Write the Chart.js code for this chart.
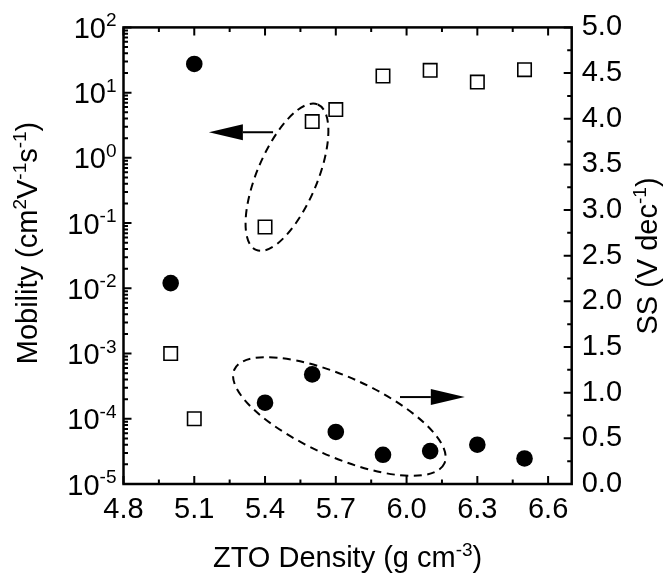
<!DOCTYPE html>
<html><head><meta charset="utf-8">
<script src="https://cdn.jsdelivr.net/npm/chart.js@4/dist/chart.umd.min.js"></script>
<style>html,body{margin:0;padding:0;background:#fff}canvas{display:block}</style>
</head><body>
<canvas id="c" width="665" height="575" style="width:665px;height:575px"></canvas>
<script>
// ---- data ----
const density  = [5.0, 5.1, 5.4, 5.6, 5.7, 5.9, 6.1, 6.3, 6.5];
const mobility = [1e-3, 1e-4, 0.087, 3.6, 5.5, 18, 22, 14.5, 22.5];
const ssValues = [2.2, 4.6, 0.89, 1.2, 0.57, 0.32, 0.36, 0.43, 0.28];

const xTicks = [4.8, 5.1, 5.4, 5.7, 6.0, 6.3, 6.6];
const xTickLabels = ['4.8', '5.1', '5.4', '5.7', '6.0', '6.3', '6.6'];
const mobTicks = [1e-5, 1e-4, 1e-3, 1e-2, 1e-1, 1e0, 1e1, 1e2];
const mobTickExponents = ['-5', '-4', '-3', '-2', '-1', '0', '1', '2'];
const ssTicks = [0, 0.5, 1.0, 1.5, 2.0, 2.5, 3.0, 3.5, 4.0, 4.5, 5.0];
const ssTickLabels = ['0.0', '0.5', '1.0', '1.5', '2.0', '2.5', '3.0', '3.5', '4.0', '4.5', '5.0'];

const xTitleParts  = [{t: 'ZTO Density (g cm'}, {t: '-3', sup: true}, {t: ')'}];
const yTitleParts  = [{t: 'Mobility (cm'}, {t: '2', sup: true}, {t: 'V'}, {t: '-1', sup: true}, {t: 's'}, {t: '-1', sup: true}, {t: ')'}];
const y2TitleParts = [{t: 'SS (V dec'}, {t: '-1', sup: true}, {t: ')'}];

// annotations (data coordinates)
const annotationEllipses = [
  {x: 5.493, y: 0.505, yAxis: 'y',  rx: 79,  ry: 30, angle: -67},
  {x: 5.715, y: 0.739, yAxis: 'y2', rx: 115, ry: 40, angle: 24}
];
const annotationArrows = [
  {from: 5.434, to: 5.162, y: 2.47,  yAxis: 'y'},
  {from: 5.972, to: 6.247, y: 0.952, yAxis: 'y2'}
];

// ---- rendering ----
const FONT = "'Liberation Sans', Arial, Helvetica, sans-serif";
const MAIN = 29, TICK = 29, SUP = 19, RISE = 11.5;

function richWidth(ctx, parts) {
  let w = 0;
  parts.forEach(p => { ctx.font = (p.sup ? SUP : MAIN) + 'px ' + FONT; w += ctx.measureText(p.t).width; });
  return w;
}
function drawRich(ctx, parts, x0) {
  let x = x0;
  ctx.textBaseline = 'alphabetic';
  ctx.textAlign = 'left';
  parts.forEach(p => {
    ctx.font = (p.sup ? SUP : MAIN) + 'px ' + FONT;
    ctx.fillText(p.t, x, p.sup ? -RISE : 0);
    x += ctx.measureText(p.t).width;
  });
}

function fixTicks(values) {
  return scale => { scale.ticks = values.map(v => ({value: v})); };
}

const decor = {
  id: 'decor',
  beforeDatasetsDraw(chart) {
    const ctx = chart.ctx, xs = chart.scales.x;
    ctx.save();
    ctx.strokeStyle = '#000';
    ctx.fillStyle = '#000';
    ctx.lineWidth = 2;
    ctx.setLineDash([8, 5.5]);
    annotationEllipses.forEach(e => {
      const cx = xs.getPixelForValue(e.x), cy = chart.scales[e.yAxis].getPixelForValue(e.y);
      ctx.beginPath();
      ctx.ellipse(cx, cy, e.rx, e.ry, e.angle * Math.PI / 180, 0, Math.PI * 2);
      ctx.stroke();
    });
    ctx.setLineDash([]);
    annotationArrows.forEach(a => {
      const x1 = xs.getPixelForValue(a.from), x2 = xs.getPixelForValue(a.to);
      const y = chart.scales[a.yAxis].getPixelForValue(a.y);
      const dir = Math.sign(x2 - x1), head = 34, hw = 8;
      ctx.beginPath();
      ctx.moveTo(x1, y); ctx.lineTo(x2 - dir * head, y);
      ctx.stroke();
      ctx.beginPath();
      ctx.moveTo(x2, y); ctx.lineTo(x2 - dir * head, y - hw); ctx.lineTo(x2 - dir * head, y + hw);
      ctx.closePath(); ctx.fill();
    });
    ctx.restore();
  },
  afterDraw(chart) {
    const ctx = chart.ctx, a = chart.chartArea;
    const xs = chart.scales.x, ys = chart.scales.y, y2 = chart.scales.y2;
    ctx.save();
    ctx.strokeStyle = '#000';
    ctx.fillStyle = '#000';
    // ticks
    ctx.lineWidth = 2;
    const MAJ = 8, MIN = 4.5;
    ctx.beginPath();
    const xMinor = [];
    for (let i = 0; i < xTicks.length - 1; i++) xMinor.push((xTicks[i] + xTicks[i + 1]) / 2);
    xs.ticks.forEach(t => {
      const px = xs.getPixelForValue(t.value);
      ctx.moveTo(px, a.bottom); ctx.lineTo(px, a.bottom - MAJ);
      ctx.moveTo(px, a.top); ctx.lineTo(px, a.top + MAJ);
    });
    xMinor.forEach(v => {
      const px = xs.getPixelForValue(v);
      ctx.moveTo(px, a.bottom); ctx.lineTo(px, a.bottom - MIN);
      ctx.moveTo(px, a.top); ctx.lineTo(px, a.top + MIN);
    });
    ys.ticks.forEach(t => {
      const py = ys.getPixelForValue(t.value);
      ctx.moveTo(a.left, py); ctx.lineTo(a.left + MAJ, py);
      if (t.value < mobTicks[mobTicks.length - 1]) {
        for (let k = 2; k <= 9; k++) {
          const pm = ys.getPixelForValue(t.value * k);
          ctx.moveTo(a.left, pm); ctx.lineTo(a.left + MIN, pm);
        }
      }
    });
    y2.ticks.forEach((t, i) => {
      const py = y2.getPixelForValue(t.value);
      ctx.moveTo(a.right, py); ctx.lineTo(a.right - MAJ, py);
      if (i < ssTicks.length - 1) {
        const pm = y2.getPixelForValue((ssTicks[i] + ssTicks[i + 1]) / 2);
        ctx.moveTo(a.right, pm); ctx.lineTo(a.right - MIN, pm);
      }
    });
    ctx.stroke();
    // frame
    ctx.lineWidth = 2.5;
    ctx.strokeRect(a.left, a.top, a.right - a.left, a.bottom - a.top);
    // left tick labels (10^n)
    ys.ticks.forEach((t, i) => {
      const py = ys.getPixelForValue(t.value);
      const ex = mobTickExponents[i];
      ctx.font = TICK + 'px ' + FONT;
      const wb = ctx.measureText('10').width;
      ctx.font = SUP + 'px ' + FONT;
      const we = ctx.measureText(ex).width;
      const xr = a.left - 7;
      ctx.textAlign = 'left'; ctx.textBaseline = 'alphabetic';
      ctx.font = TICK + 'px ' + FONT;
      ctx.fillText('10', xr - we - wb, py + 10.5);
      ctx.font = SUP + 'px ' + FONT;
      ctx.fillText(ex, xr - we, py + 10.5 - RISE);
    });
    // titles
    const cxPlot = (a.left + a.right) / 2;
    let w = richWidth(ctx, xTitleParts);
    ctx.save(); ctx.translate(cxPlot, 567); drawRich(ctx, xTitleParts, -w / 2); ctx.restore();
    w = richWidth(ctx, yTitleParts);
    ctx.save(); ctx.translate(37, 243); ctx.rotate(-Math.PI / 2); drawRich(ctx, yTitleParts, -w / 2); ctx.restore();
    w = richWidth(ctx, y2TitleParts);
    ctx.save(); ctx.translate(657, 256); ctx.rotate(-Math.PI / 2); drawRich(ctx, y2TitleParts, -w / 2); ctx.restore();
    ctx.restore();
  }
};

const pts = (ys) => density.map((x, i) => ({x: x, y: ys[i]}));

new Chart(document.getElementById('c'), {
  type: 'scatter',
  data: {
    datasets: [
      {label: 'Mobility', data: pts(mobility), yAxisID: 'y', pointStyle: 'rect', pointRadius: 9.5,
       pointBackgroundColor: '#fff', pointBorderColor: '#000', pointBorderWidth: 1.6, showLine: false},
      {label: 'SS', data: pts(ssValues), yAxisID: 'y2', pointStyle: 'circle', pointRadius: 8.3,
       pointBackgroundColor: '#000', pointBorderColor: '#000', pointBorderWidth: 0, showLine: false}
    ]
  },
  options: {
    responsive: false,
    devicePixelRatio: 1,
    animation: false,
    layout: {padding: {top: 26.5, left: 0, right: 0, bottom: 0}},
    plugins: {legend: {display: false}, tooltip: {enabled: false}},
    scales: {
      x: {
        type: 'linear', position: 'bottom', min: 4.8, max: 6.7,
        afterBuildTicks: fixTicks(xTicks),
        afterFit: s => { s.height = 91; },
        grid: {display: false, drawTicks: false}, border: {display: false},
        ticks: {padding: 9, color: '#000', font: {family: FONT, size: TICK},
                callback: (v, i) => xTickLabels[i]}
      },
      y: {
        type: 'logarithmic', position: 'left', min: 1e-5, max: 1e2,
        afterBuildTicks: fixTicks(mobTicks),
        afterFit: s => { s.width = 123.5; },
        grid: {display: false, drawTicks: false}, border: {display: false},
        ticks: {display: false}
      },
      y2: {
        type: 'linear', position: 'right', min: 0, max: 5,
        afterBuildTicks: fixTicks(ssTicks),
        afterFit: s => { s.width = 93.3; },
        grid: {display: false, drawTicks: false}, border: {display: false},
        ticks: {padding: 10, color: '#000', font: {family: FONT, size: TICK},
                callback: (v, i) => ssTickLabels[i]}
      }
    }
  },
  plugins: [decor]
});
</script>
</body></html>
